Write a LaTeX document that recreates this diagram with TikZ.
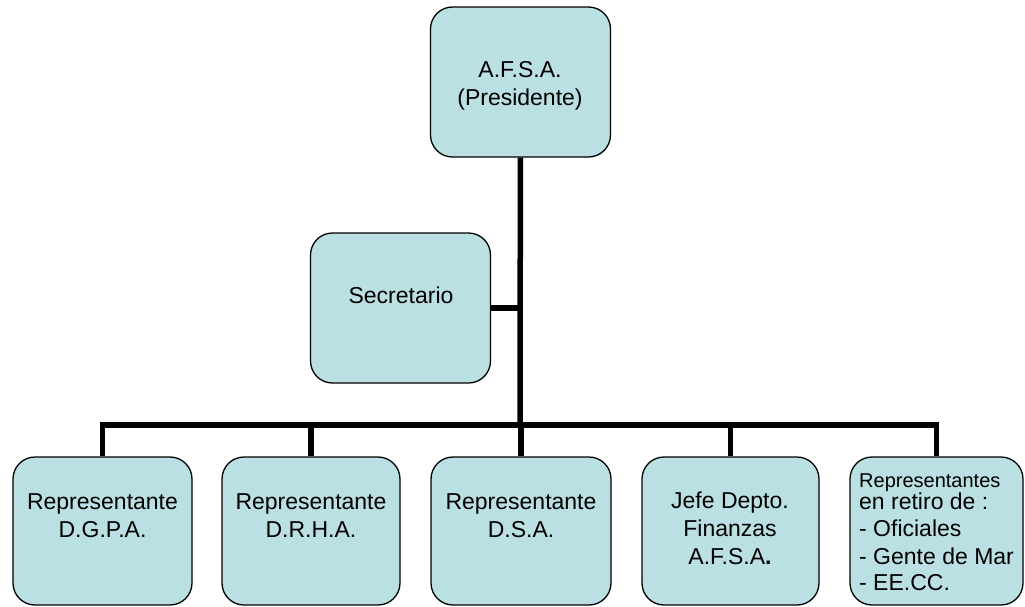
\documentclass[tikz,border=0pt]{standalone}
\usepackage{fontspec}
\setmainfont{Liberation Sans}
\usepackage{xcolor}
\definecolor{celeste}{HTML}{BBE0E3}

\begin{document}
\begin{tikzpicture}[x=1pt, y=-1pt,
    cargo/.style={draw=black, line width=1.3pt, fill=celeste, rounded corners=22pt,
                  minimum width=180pt, minimum height=150pt, inner sep=0pt},
    texto/.style={align=center, inner sep=0pt, font=\fontsize{23}{28}\selectfont},
    enlace/.style={line width=5.5pt, line join=miter}]
                \useasboundingbox (0,0) rectangle (1025,606);

                \node[cargo] (pres) at (520.5,82) {};
                \node[cargo] (sec) at (400.5,308) {};
                \node[cargo, minimum width=179pt, minimum height=148pt] (dgpa) at (102.5,531) {};
                \node[cargo, minimum width=178pt, minimum height=148pt] (drha) at (311,531) {};
                \node[cargo, minimum width=180pt, minimum height=148pt] (dsa) at (521,531) {};
                \node[cargo, minimum width=177pt, minimum height=148pt] (fin) at (730.5,531) {};
                \node[cargo, minimum width=173pt, minimum height=148pt] (retiro) at (936.5,531) {};

                \coordinate (bus) at (520,425);
                \draw[enlace] (pres) -- (bus);
                \draw[enlace] (sec) -- (sec -| bus);
                \draw[enlace] (dgpa.north) |- (bus) -| (retiro.north);
                \foreach \caja in {drha, dsa, fin}
                    \draw[enlace] (\caja.north) -- (\caja.north |- bus);

                \node[texto] (t-pres) at (520,85.5) {A.F.S.A.\\(Presidente)};
                \node[texto] (t-sec) at (401,295.5) {Secretario};
                \node[texto] (t-dgpa) at (102.5,515.5) {Representante\\D.G.P.A.};
                \node[texto] (t-drha) at (311,515.5) {Representante\\D.R.H.A.};
                \node[texto] (t-dsa) at (521,515.5) {Representante\\D.S.A.};
                \node[texto] (t-fin) at (730,528) {Jefe Depto.\\Finanzas\\A.F.S.A\textbf{.}};
                \node[texto, align=left, anchor=west] (t-retiro) at (859,532)
                    {\fontsize{20}{22}\selectfont Representantes\\[-6pt]en retiro de :\\[-1pt]
                     \fontsize{23}{28}\selectfont - Oficiales\\- Gente de Mar\\[-2pt]- EE.CC.};
            \end{tikzpicture}
\end{document}
